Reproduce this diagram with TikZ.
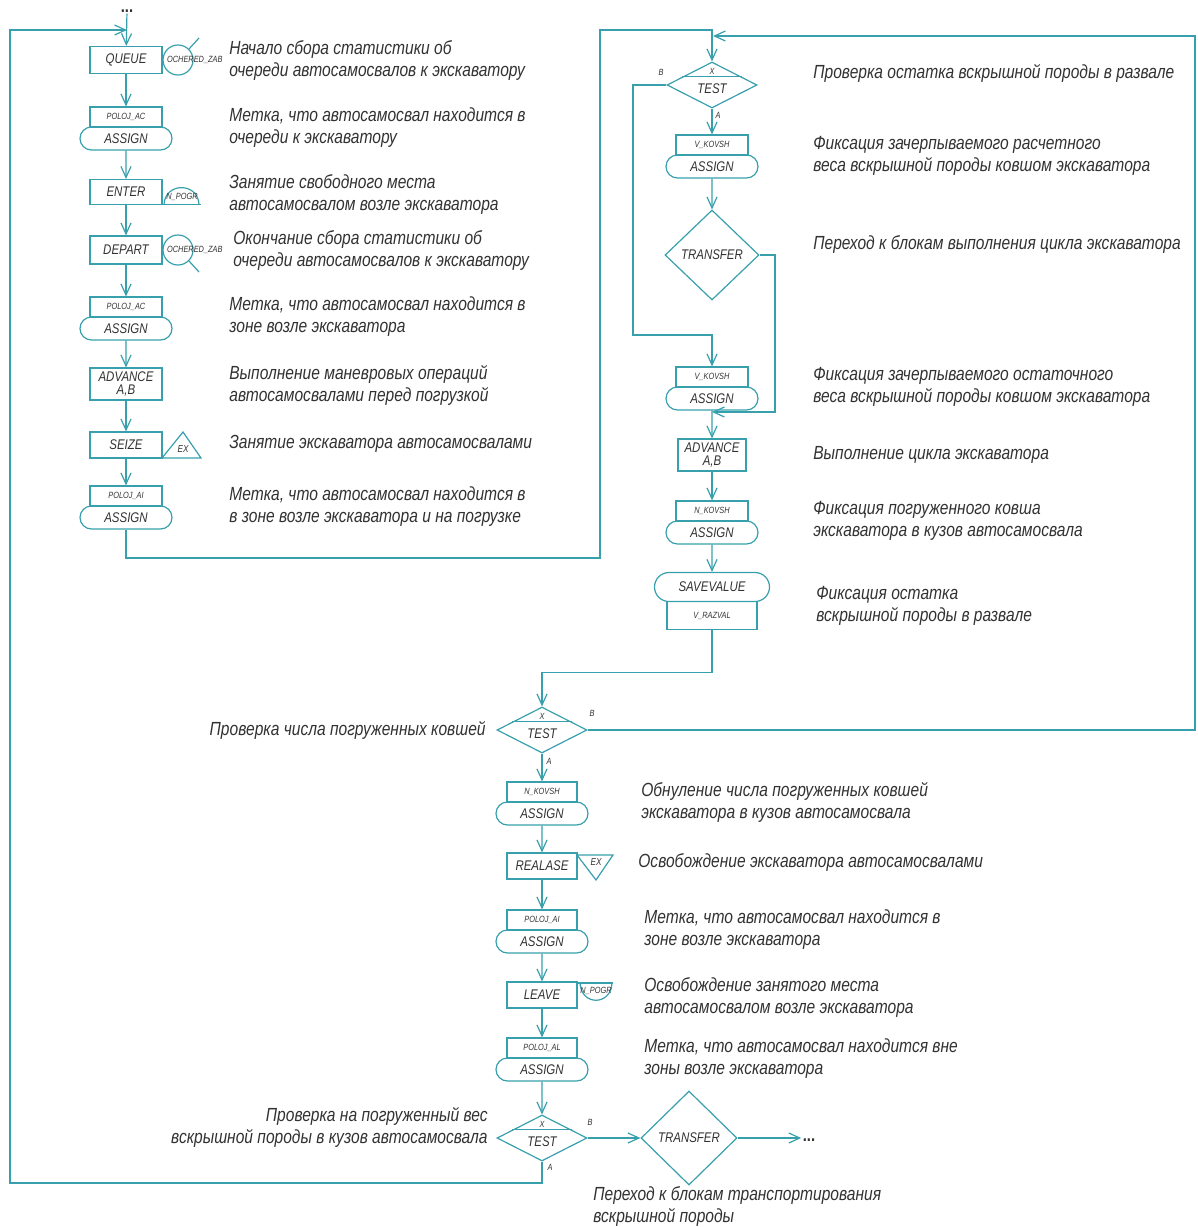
\documentclass[tikz,border=0pt]{standalone}
\usepackage{fontspec}
\setmainfont{Liberation Sans}[FakeStretch=0.82]
\usetikzlibrary{shapes.geometric,shapes.misc,arrows.meta,calc}

\definecolor{gpssline}{RGB}{55,160,172}
\definecolor{gpsstext}{RGB}{50,50,50}
\newcommand{\descfont}{\fontsize{19}{22}\selectfont\itshape}
\newcommand{\blkfont}{\fontsize{14}{14}\selectfont\itshape}
\newcommand{\tinyfont}{\fontsize{9}{9}\selectfont\itshape}
\newcommand{\dotsfont}{\fontsize{18}{18}\selectfont\bfseries}

\tikzset{every picture/.style={line width=1.2pt}}
\tikzset{
  gline/.style={draw=gpssline},
  wire/.style={draw=gpssline,-{Straight Barb[length=11pt,width=10pt]}},
  blk/.style={draw=gpssline,rectangle,minimum width=72pt,minimum height=27pt,inner sep=0pt,font=\blkfont,text=gpsstext,align=center},
  lbl/.style={draw=gpssline,rectangle,minimum width=72pt,minimum height=20pt,inner sep=0pt,font=\tinyfont,text=gpsstext},
  asg/.style={draw=gpssline,rounded rectangle,minimum width=92pt,minimum height=23pt,inner sep=0pt,font=\blkfont,text=gpsstext},
  dmd/.style={draw=gpssline,diamond,aspect=2,minimum width=90pt,minimum height=46pt,inner sep=0pt},
  trf/.style={draw=gpssline,diamond,aspect=1,minimum width=94pt,minimum height=90pt,inner sep=0pt,font=\blkfont,text=gpsstext},
  desc/.style={anchor=west,align=left,inner sep=0.75pt,font=\descfont,text=gpsstext},
  smalltxt/.style={inner sep=0.5pt,font=\tinyfont,text=gpsstext},
  dotstxt/.style={anchor=base,inner sep=1pt,text height=3pt,text depth=0pt,font=\dotsfont,text=gpsstext},
}

\begin{document}
\begin{tikzpicture}[x=1pt,y=1pt,yscale=-1]
\useasboundingbox (0,0) rectangle (1198,1227);

%%% left column
\draw (127,12) node [dotstxt] (top) {...};
\coordinate (in1) at (127,30);
\draw (126,60) node [blk] (queue) {QUEUE};
\draw (178,60) node [circle,gline,minimum size=30pt,inner sep=0pt] (qsym) {};
\draw [gline] (qsym.45) -- ++(10,-11);
\draw (166,60) node [anchor=west,smalltxt] (qlbl) {OCHERED\_ZAB};

\draw (126,117) node [lbl] (asg1l) {POLOJ\_AC};
\draw (126,138.5) node [asg] (asg1) {ASSIGN};

\draw (126,192) node [blk,minimum height=25pt] (enter) {ENTER};
\draw [gline] (162,204.5) -- (201,204.5);
\draw [gline] (164,204.5) .. controls (165,182) and (198,182) .. (199,204.5);
\draw (182,197) node [smalltxt] (elbl) {N\_POGR};

\draw (126,250) node [blk,minimum height=28pt] (depart) {DEPART};
\draw (178,250) node [circle,gline,minimum size=30pt,inner sep=0pt] (dsym) {};
\draw [gline] (dsym.-45) -- ++(10,11);
\draw (166,250) node [anchor=west,smalltxt] (dlbl) {OCHERED\_ZAB};

\draw (126,307) node [lbl] (asg2l) {POLOJ\_AC};
\draw (126,328.5) node [asg] (asg2) {ASSIGN};

\draw (126,384) node [blk,minimum height=32pt,font=\fontsize{14}{13}\selectfont\itshape] (adv1) {ADVANCE\\A,B};

\draw (126,445) node [blk,minimum height=26pt] (seize) {SEIZE};
\draw [gline] (162,458) -- (201,458) -- (183,432) -- cycle;
\draw (183,449) node [smalltxt,font=\fontsize{10}{10}\selectfont\itshape] (slbl) {EX};

\draw (126,496) node [lbl] (asg3l) {POLOJ\_AI};
\draw (126,517.5) node [asg] (asg3) {ASSIGN};

%%% right column
\draw (712,85) node [dmd] (test1) {};
\draw [gline] ($(test1.west)!0.35!(test1.north)$) -- ($(test1.east)!0.35!(test1.north)$);
\draw ($(test1.center)+(0,4)$) node [font=\blkfont,text=gpsstext,inner sep=0pt] (t1txt) {TEST};
\draw (712,71) node [smalltxt] (t1x) {X};
\draw (661,72) node [smalltxt] (t1b) {B};
\draw (718,115) node [smalltxt] (t1a) {A};

\draw (712,145) node [lbl] (asg4l) {V\_KOVSH};
\draw (712,166.5) node [asg] (asg4) {ASSIGN};

\draw (712,255) node [trf] (trans1) {TRANSFER};

\draw (712,377) node [lbl] (asg5l) {V\_KOVSH};
\draw (712,398.5) node [asg] (asg5) {ASSIGN};
\coordinate (j2) at (712,412);

\draw (712,455) node [blk,minimum width=68pt,minimum height=32pt,font=\fontsize{14}{13}\selectfont\itshape] (adv2) {ADVANCE\\A,B};

\draw (712,511) node [lbl] (asg6l) {N\_KOVSH};
\draw (712,532.5) node [asg] (asg6) {ASSIGN};

\draw (712,587) node [asg,minimum width=115pt,minimum height=29pt] (save) {SAVEVALUE};
\draw (712,615.5) node [lbl,minimum width=90pt,minimum height=28pt] (savel) {V\_RAZVAL};

%%% centre column
\draw (542,730) node [dmd] (test2) {};
\draw [gline] ($(test2.west)!0.35!(test2.north)$) -- ($(test2.east)!0.35!(test2.north)$);
\draw ($(test2.center)+(0,4)$) node [font=\blkfont,text=gpsstext,inner sep=0pt] (t2txt) {TEST};
\draw (542,716) node [smalltxt] (t2x) {X};
\draw (592,713) node [smalltxt] (t2b) {B};
\draw (549,761) node [smalltxt] (t2a) {A};

\draw (542,792) node [lbl,minimum width=70pt] (asg7l) {N\_KOVSH};
\draw (542,813.5) node [asg] (asg7) {ASSIGN};

\draw (542,866) node [blk,minimum width=70pt,minimum height=26pt] (rel) {REALASE};
\draw [gline] (577,855) -- (613,855) -- (596,880) -- cycle;
\draw (596,862) node [smalltxt,font=\fontsize{10}{10}\selectfont\itshape] (rlbl) {EX};

\draw (542,920) node [lbl,minimum width=70pt] (asg8l) {POLOJ\_AI};
\draw (542,941.5) node [asg] (asg8) {ASSIGN};

\draw (542,995) node [blk,minimum width=70pt,minimum height=26pt] (leave) {LEAVE};
\draw [gline] (577,983) -- (613,983);
\draw [gline] (580,983) .. controls (581,1006) and (611,1006) .. (612,983);
\draw (596,991) node [smalltxt] (llbl) {N\_POGR};

\draw (542,1048) node [lbl,minimum width=70pt] (asg9l) {POLOJ\_AL};
\draw (542,1069.5) node [asg] (asg9) {ASSIGN};

\draw (542,1138) node [dmd] (test3) {};
\draw [gline] ($(test3.west)!0.35!(test3.north)$) -- ($(test3.east)!0.35!(test3.north)$);
\draw ($(test3.center)+(0,4)$) node [font=\blkfont,text=gpsstext,inner sep=0pt] (t3txt) {TEST};
\draw (542,1124) node [smalltxt] (t3x) {X};
\draw (590,1122) node [smalltxt] (t3b) {B};
\draw (550,1167) node [smalltxt] (t3a) {A};

\draw (689,1138) node [trf,minimum width=96pt,minimum height=94pt] (trans2) {TRANSFER};
\draw (809,1141) node [dotstxt] (dots1) {...};

%%% connectors
\draw [wire] (top) -- (queue);
\draw [wire] (queue) -- (asg1l);
\draw [wire] (asg1) -- (enter);
\draw [wire] (enter) -- (depart);
\draw [wire] (depart) -- (asg2l);
\draw [wire] (asg2) -- (adv1);
\draw [wire] (adv1) -- (seize);
\draw [wire] (seize) -- (asg3l);
\draw [wire] (asg3.south) |- (600,558) |- (712,30) -- (test1.north);

\draw [wire] (test1.south) -- (asg4l);
\draw [wire] (asg4) -- (trans1);
\draw [wire] (test1.west) -| (633,335) -| (asg5l.north);
\draw [wire] (trans1.east) -| (775,412) -- (j2);
\draw [wire] (asg5) -- (adv2);
\draw [wire] (adv2) -- (asg6l);
\draw [wire] (asg6) -- (save);
\draw [wire] (savel.south) -- ++(0,42) -| (test2.north);

\draw [wire] (test2.east) -| (1195,36) -- (713,36);
\draw [wire] (test2.south) -- (asg7l);
\draw [wire] (asg7) -- (rel);
\draw [wire] (rel) -- (asg8l);
\draw [wire] (asg8) -- (leave);
\draw [wire] (leave) -- (asg9l);
\draw [wire] (asg9) -- (test3);
\draw [wire] (test3.east) -- (trans2.west);
\draw [wire] (trans2.east) -- (trans2.east -| dots1.west);
\draw [wire] (test3.south) |- (10,1183) |- (in1);

%%% comments
% Text Node
\draw (228,60) node [desc] (d1) {Начало сбора статистики об\\очереди автосамосвалов к экскаватору};
% Text Node
\draw (228,128) node [desc] (d2) {Метка, что автосамосвал находится в\\очереди к экскаватору};
% Text Node
\draw (228,194) node [desc] (d3) {Занятие свободного места\\автосамосвалом возле экскаватора};
% Text Node
\draw (232,250) node [desc] (d4) {Окончание сбора статистики об\\очереди автосамосвалов к экскаватору};
% Text Node
\draw (228,317) node [desc] (d5) {Метка, что автосамосвал находится в\\зоне возле экскаватора};
% Text Node
\draw (228,385) node [desc] (d6) {Выполнение маневровых операций\\автосамосвалами перед погрузкой};
% Text Node
\draw (228,444) node [desc] (d7) {Занятие экскаватора автосамосвалами};
% Text Node
\draw (228,507) node [desc] (d8) {Метка, что автосамосвал находится в\\в зоне возле экскаватора и на погрузке};
% Text Node
\draw (812,73) node [desc] (d9) {Проверка остатка вскрышной породы в развале};
% Text Node
\draw (812,156) node [desc] (d10) {Фиксация зачерпываемого расчетного\\веса вскрышной породы ковшом экскаватора};
% Text Node
\draw (812,244) node [desc] (d11) {Переход к блокам выполнения цикла экскаватора};
% Text Node
\draw (812,387) node [desc] (d12) {Фиксация зачерпываемого остаточного\\веса вскрышной породы ковшом экскаватора};
% Text Node
\draw (812,455) node [desc] (d13) {Выполнение цикла экскаватора};
% Text Node
\draw (812,521) node [desc] (d14) {Фиксация погруженного ковша\\экскаватора в кузов автосамосвала};
% Text Node
\draw (815,606) node [desc] (d15) {Фиксация остатка\\вскрышной породы в развале};
% Text Node
\draw (487,730) node [desc,anchor=east] (d16) {Проверка числа погруженных ковшей};
% Text Node
\draw (640,802) node [desc] (d17) {Обнуление числа погруженных ковшей\\экскаватора в кузов автосамосвала};
% Text Node
\draw (637,862) node [desc] (d18) {Освобождение экскаватора автосамосвалами};
% Text Node
\draw (643,930) node [desc] (d19) {Метка, что автосамосвал находится в\\зоне возле экскаватора};
% Text Node
\draw (643,997) node [desc] (d20) {Освобождение занятого места\\автосамосвалом возле экскаватора};
% Text Node
\draw (643,1059) node [desc] (d21) {Метка, что автосамосвал находится вне\\зоны возле экскаватора};
% Text Node
\draw (489,1127) node [desc,anchor=east,align=right] (d22) {Проверка на погруженный вес\\вскрышной породы в кузов автосамосвала};
% Text Node
\draw (592,1206) node [desc] (d23) {Переход к блокам транспортирования\\вскрышной породы};

\end{tikzpicture}
\end{document}
